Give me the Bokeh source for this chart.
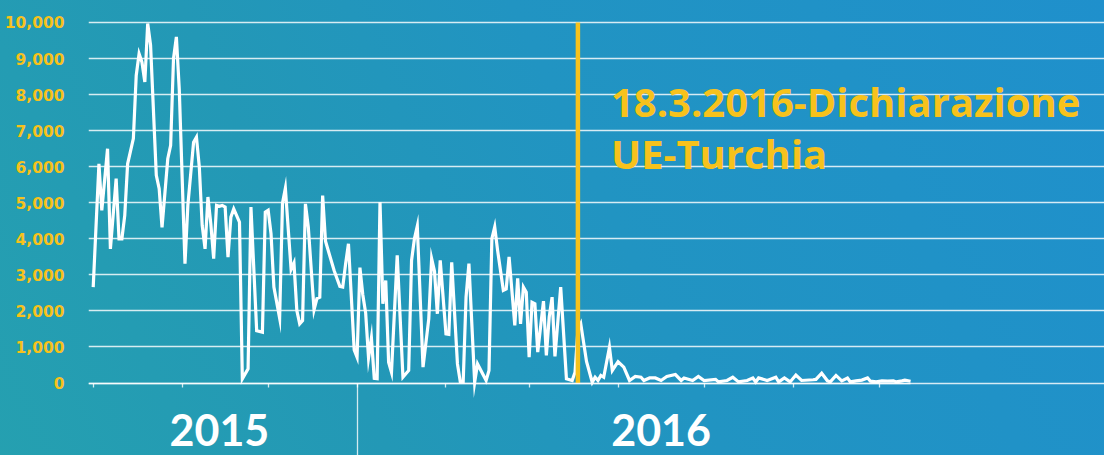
import pandas as pd
from bokeh.plotting import figure
from bokeh.models import (Range1d, FixedTicker, NumeralTickFormatter, DatetimeAxis,
                          Label, CustomJSTickFormatter, Grid)
from bokeh.embed import file_html
from bokeh.resources import INLINE

# ---------------- data (daily arrivals) ----------------
dates = [
    "2015-10-01", "2015-10-03", "2015-10-04", "2015-10-06", "2015-10-07", "2015-10-09", "2015-10-10",
    "2015-10-11", "2015-10-12", "2015-10-13", "2015-10-15", "2015-10-16", "2015-10-17", "2015-10-18",
    "2015-10-19", "2015-10-20", "2015-10-21", "2015-10-23", "2015-10-24", "2015-10-25", "2015-10-27",
    "2015-10-28", "2015-10-29", "2015-10-30", "2015-10-31",
    "2015-11-02", "2015-11-03", "2015-11-05", "2015-11-06", "2015-11-07", "2015-11-08", "2015-11-09",
    "2015-11-10", "2015-11-11", "2015-11-12", "2015-11-13", "2015-11-14", "2015-11-15", "2015-11-16",
    "2015-11-17", "2015-11-18", "2015-11-19", "2015-11-21", "2015-11-22", "2015-11-24", "2015-11-25",
    "2015-11-27", "2015-11-29", "2015-11-30",
    "2015-12-01", "2015-12-02", "2015-12-03", "2015-12-05", "2015-12-06", "2015-12-07", "2015-12-09",
    "2015-12-10", "2015-12-11", "2015-12-12", "2015-12-13", "2015-12-14", "2015-12-15", "2015-12-17",
    "2015-12-18", "2015-12-19", "2015-12-20", "2015-12-21", "2015-12-24", "2015-12-25", "2015-12-26",
    "2015-12-27", "2015-12-28", "2015-12-29", "2015-12-31",
    "2016-01-01", "2016-01-02", "2016-01-03", "2016-01-04", "2016-01-05", "2016-01-06", "2016-01-07",
    "2016-01-08", "2016-01-09", "2016-01-10", "2016-01-11", "2016-01-12", "2016-01-13", "2016-01-15",
    "2016-01-17", "2016-01-19", "2016-01-20", "2016-01-21", "2016-01-22", "2016-01-24", "2016-01-26",
    "2016-01-27", "2016-01-28", "2016-01-29", "2016-01-30",
    "2016-02-01", "2016-02-02", "2016-02-03", "2016-02-05", "2016-02-06", "2016-02-07", "2016-02-08",
    "2016-02-09", "2016-02-11", "2016-02-12", "2016-02-15", "2016-02-16", "2016-02-17", "2016-02-18",
    "2016-02-19", "2016-02-21", "2016-02-22", "2016-02-23", "2016-02-25", "2016-02-26", "2016-02-27",
    "2016-02-28", "2016-02-29",
    "2016-03-01", "2016-03-02", "2016-03-03", "2016-03-04", "2016-03-06", "2016-03-07", "2016-03-08",
    "2016-03-09", "2016-03-10", "2016-03-12", "2016-03-14", "2016-03-16", "2016-03-17", "2016-03-18",
    "2016-03-19", "2016-03-21", "2016-03-23", "2016-03-24", "2016-03-25", "2016-03-26", "2016-03-27",
    "2016-03-29", "2016-03-30",
    "2016-04-01", "2016-04-03", "2016-04-05", "2016-04-07", "2016-04-09", "2016-04-10", "2016-04-12",
    "2016-04-14", "2016-04-16", "2016-04-18", "2016-04-21", "2016-04-23", "2016-04-24", "2016-04-27",
    "2016-04-29",
    "2016-05-01", "2016-05-05", "2016-05-06", "2016-05-09", "2016-05-11", "2016-05-13", "2016-05-16",
    "2016-05-18", "2016-05-19", "2016-05-20", "2016-05-23", "2016-05-26", "2016-05-27", "2016-05-29",
    "2016-05-31",
    "2016-06-02", "2016-06-04", "2016-06-08", "2016-06-09", "2016-06-11", "2016-06-13", "2016-06-14",
    "2016-06-16", "2016-06-18", "2016-06-20", "2016-06-21", "2016-06-23", "2016-06-25", "2016-06-27",
    "2016-06-28", "2016-06-30",
    "2016-07-02", "2016-07-04", "2016-07-06", "2016-07-07", "2016-07-09", "2016-07-10", "2016-07-12",
]

arrivals = [
    2660, 6080, 4790, 6500, 3720, 5670, 4000, 4000, 4650, 6080, 6780, 8530, 9135, 8900, 8350, 9970,
    9370, 5760, 5390, 4320, 6220, 6590, 9000, 9600, 8160,
    3310, 4925, 6680, 6820, 5990, 4370, 3720, 5160, 4420, 3450, 4925, 4900, 4925, 4880, 3490, 4600,
    4830, 4460, 115, 395, 4880, 1450, 1410, 4740,
    4790, 4140, 2660, 1800, 4990, 5400, 3150, 3330, 2010, 1640, 1730, 4970, 4320, 2030, 2340, 2380,
    5200, 3930, 3120, 2900, 2680, 2660, 3300, 3860, 920,
    715, 3200, 2450, 1940, 700, 1250, 130, 120, 5020, 2200, 2845, 577, 300, 3540, 160, 347, 3400,
    4000, 4350, 440, 1780, 3450, 3100, 1920, 3400,
    1365, 1350, 3350, 530, 30, 20, 2380, 3310, 20, 530, 70, 347, 4000, 4330, 3680, 2570, 2610, 3500,
    1600, 2900, 1640, 2660, 2520,
    715, 2240, 2200, 855, 2270, 765, 1830, 2380, 740, 2660, 117, 70, 300, 1460, 1640, 600, 20, 160,
    70, 210, 160, 990, 347,
    590, 440, 70, 180, 160, 70, 140, 140, 70, 180, 235, 70, 140, 70, 180,
    70, 100, 30, 70, 160, 30, 70, 140, 30, 140, 70, 160, 30, 140, 30,
    220, 70, 90, 100, 270, 60, 30, 210, 60, 140, 30, 60, 80, 140, 50, 30,
    60, 50, 60, 30, 60, 80, 50,
]

y_ticks = [0, 1000, 2000, 3000, 4000, 5000, 6000, 7000, 8000, 9000, 10000]
year_labels = ["2015", "2016"]
year_label_dates = ["2015-11-14", "2016-04-16"]
year_break = "2016-01-01"
event_date = "2016-03-18"
event_text = "18.3.2016-Dichiarazione\nUE-Turchia"

# ---------------- styling ----------------
YELLOW = "#f7c21c"
WHITE = "#ffffff"


def ms(d):
    return pd.Timestamp(d).value / 1e6


x = pd.to_datetime(dates)
x_start = ms("2015-09-29 08:38")
x_end = ms("2016-09-17 14:38")
data_end = ms("2016-07-12")

p = figure(
    width=1112, height=463,
    output_backend="svg", toolbar_location=None,
    x_axis_type=None,
    x_range=Range1d(x_start, x_end),
    y_range=Range1d(-2011, 10194),
    min_border_left=96, min_border_right=0, min_border_top=23, min_border_bottom=0,
)
p.styles = {
    "margin": "-8px -16px -16px -8px",
    "background": "linear-gradient(65deg, #25a0b0 0%, #2398b6 30%, #2194c2 55%, #1f90cc 100%)",
}
p.background_fill_alpha = 0
p.border_fill_alpha = 0
p.outline_line_color = None

# y axis
yax = p.yaxis[0]
yax.ticker = FixedTicker(ticks=y_ticks)
yax.formatter = NumeralTickFormatter(format="0,0")
yax.axis_line_color = None
yax.major_tick_line_color = None
yax.minor_tick_line_color = None
yax.major_label_standoff = 18
yax.major_label_text_color = YELLOW
yax.major_label_text_font = "DejaVu Sans"
yax.major_label_text_font_style = "bold"
yax.major_label_text_font_size = "15.5px"

# grid lines (the ones behind the annotation text stop short of it)
p.ygrid[0].visible = False
grid_groups = [
    ([0, 1000, 2000, 3000, 4000], data_end),
    ([5000, 9000, 10000], ms("2016-07-07")),
    ([6000, 7000, 8000], ms("2016-03-26")),
]
for ticks, gend in grid_groups:
    g = Grid(dimension=1, ticker=FixedTicker(ticks=ticks), bounds=(x_start, gend),
             grid_line_color=WHITE, grid_line_alpha=0.82, grid_line_width=1.3)
    p.add_layout(g)

# x axis with month ticks and long year-break tick, fixed at y = 0
month_starts = [ms(d) for d in pd.date_range("2015-10-01", "2016-07-01", freq="MS")]
ax_months = DatetimeAxis(
    fixed_location=0, bounds=(x_start, data_end),
    ticker=FixedTicker(ticks=[ms(year_break)], minor_ticks=month_starts),
    formatter=CustomJSTickFormatter(code="return ''"),
    axis_line_color=WHITE, axis_line_alpha=0.8, axis_line_width=1.3,
    major_tick_line_color=WHITE, major_tick_line_alpha=0.8, major_tick_line_width=1.3,
    major_tick_in=0, major_tick_out=80,
    minor_tick_line_color=WHITE, minor_tick_line_alpha=0.8, minor_tick_line_width=1.3,
    minor_tick_in=0, minor_tick_out=4,
)
p.add_layout(ax_months, "below")

ax_years = DatetimeAxis(
    fixed_location=0,
    ticker=FixedTicker(ticks=[ms(d) for d in year_label_dates]),
    formatter=CustomJSTickFormatter(args=dict(names=year_labels), code="return names[index]"),
    axis_line_color=None, major_tick_line_color=None, minor_tick_line_color=None,
    major_tick_in=0, major_tick_out=0,
    major_label_standoff=31,
    major_label_text_color=WHITE,
    major_label_text_font="Lato",
    major_label_text_font_style="bold",
    major_label_text_font_size="43px",
)
p.add_layout(ax_years, "below")

# data line
p.line(x, arrivals, line_color=WHITE, line_width=3.2, line_join="miter")

# event marker
ev = [pd.Timestamp(event_date)]
p.segment(x0=ev, y0=[0], x1=ev, y1=[10000], line_color=YELLOW, line_width=4.5)

lab = Label(
    x=ms(event_date), y=8583, x_offset=33,
    text=event_text,
    text_font="Open Sans", text_font_style="bold", text_font_size="40px",
    text_color=YELLOW, text_baseline="top", text_align="left",
    text_line_height=0.96,
)
p.add_layout(lab)

open("out.html", "w").write(file_html(p, INLINE))
